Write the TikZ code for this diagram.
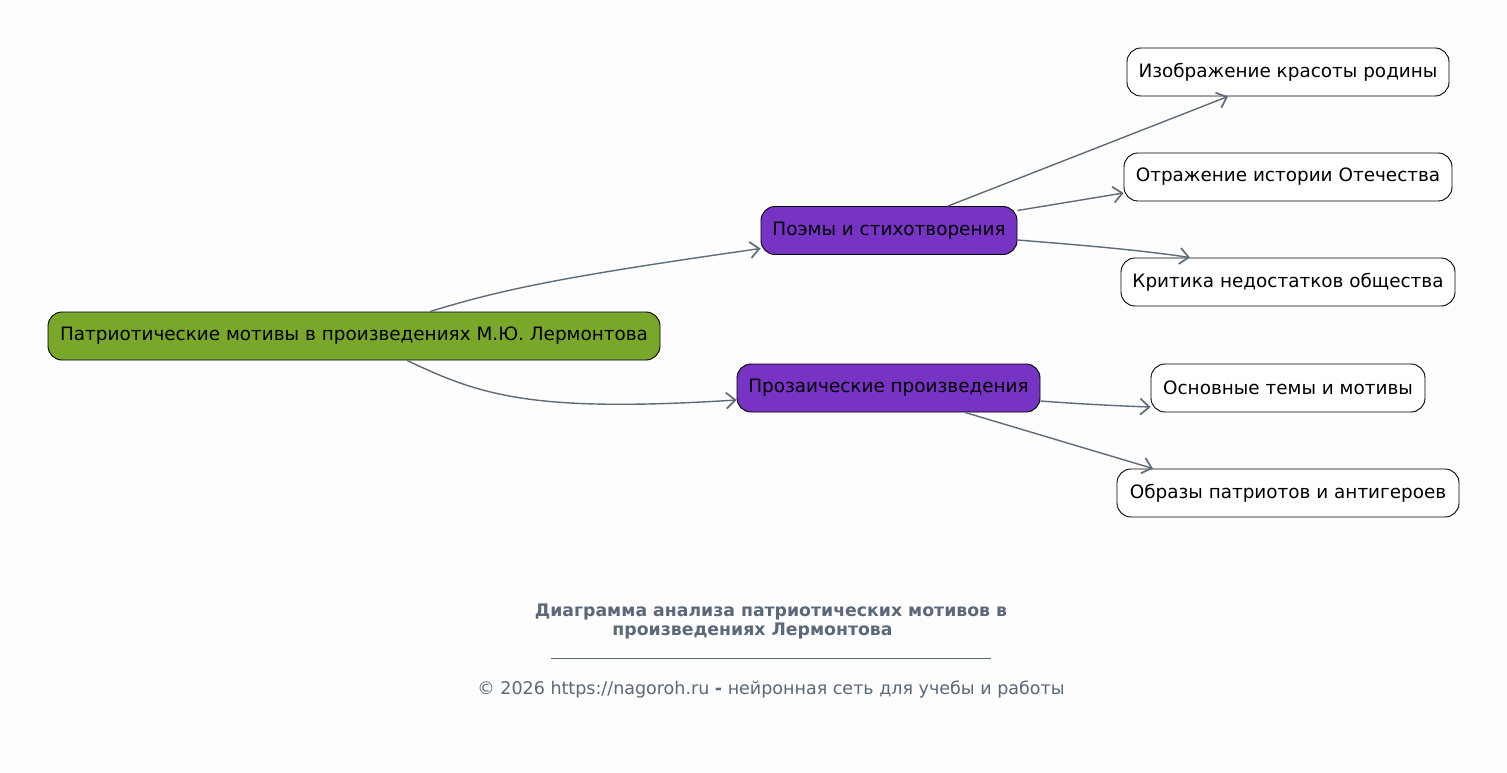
\documentclass[tikz,border=0pt]{standalone}
\usepackage{fontspec}
\setmainfont{DejaVu Sans}
\usetikzlibrary{arrows.meta}
\definecolor{rootgreen}{HTML}{79A72A}
\definecolor{midpurple}{HTML}{7733C4}
\definecolor{edgegray}{HTML}{5F6B78}
\definecolor{titlegray}{HTML}{5B6878}
\definecolor{bgwhite}{HTML}{FDFDFD}
\tikzset{
  box/.style={draw=black, line width=0.9pt, rounded corners=14pt, minimum height=48pt,
    inner sep=0pt, font=\fontsize{18.4}{21}\selectfont, text=black},
  rootbox/.style={box, fill=rootgreen},
  midbox/.style={box, fill=midpurple},
  leafbox/.style={box, fill=white},
  conn/.style={draw=edgegray, line width=1.4pt, -{Straight Barb[length=9pt,width=16pt,line width=1.7pt]}},
}
\begin{document}
\begin{tikzpicture}[x=1pt,y=-1pt]
\fill[bgwhite] (0,0) rectangle (1507,773);
\useasboundingbox (0,0) rectangle (1507,773);
\node[rootbox, minimum width=612pt] (root) at (354,336) {Патриотические мотивы в произведениях М.Ю. Лермонтова};
\node[midbox, minimum width=256pt] (poems) at (889,230.5) {Поэмы и стихотворения};
\node[midbox, minimum width=303pt] (prose) at (888.5,388) {Прозаические произведения};
\node[leafbox, minimum width=322pt] (l1) at (1288,72) {Изображение красоты родины};
\node[leafbox, minimum width=328pt] (l2) at (1288,177) {Отражение истории Отечества};
\node[leafbox, minimum width=334pt] (l3) at (1288,282) {Критика недостатков общества};
\node[leafbox, minimum width=274pt] (l4) at (1288,388) {Основные темы и мотивы};
\node[leafbox, minimum width=342pt] (l5) at (1288,493) {Образы патриотов и антигероев};

\draw[conn] ([xshift=76pt]root.north) .. controls (500,290) and (560,277) .. ([yshift=-18pt]poems.west);
\draw[conn] ([xshift=53pt]root.south) .. controls (480,395) and (530,413) .. ([yshift=-12pt]prose.west);
\draw[conn] ([xshift=59pt]poems.north) -- ([xshift=-60pt]l1.south);
\draw[conn] ([yshift=20pt]poems.east) -- ([yshift=-16pt]l2.west);
\draw[conn] ([yshift=-9.5pt]poems.east) .. controls (1080,245) and (1140,250) .. ([xshift=-98pt]l3.north);
\draw[conn] ([yshift=-13pt]prose.east) .. controls (1080,404) and (1120,406) .. ([yshift=-19pt]l4.west);
\draw[conn] ([xshift=76.5pt]prose.south) -- ([xshift=-135pt]l5.north);

\node[font=\bfseries\fontsize{17.3}{19}\selectfont, text=titlegray, align=center] (title) at (771,621)
  {Диаграмма анализа патриотических мотивов в\\ произведениях Лермонтова\hspace*{37pt}};
\coordinate (hl) at (551,658);
\coordinate (hr) at (991,658);
\draw[titlegray, line width=0.8pt] (hl) -- (hr);
\node[font=\fontsize{17.5}{20}\selectfont, text=titlegray] (foot) at (771,689.5)
  {© 2026 https://nagoroh.ru \textbf{-} нейронная сеть для учебы и работы};
\end{tikzpicture}
\end{document}
